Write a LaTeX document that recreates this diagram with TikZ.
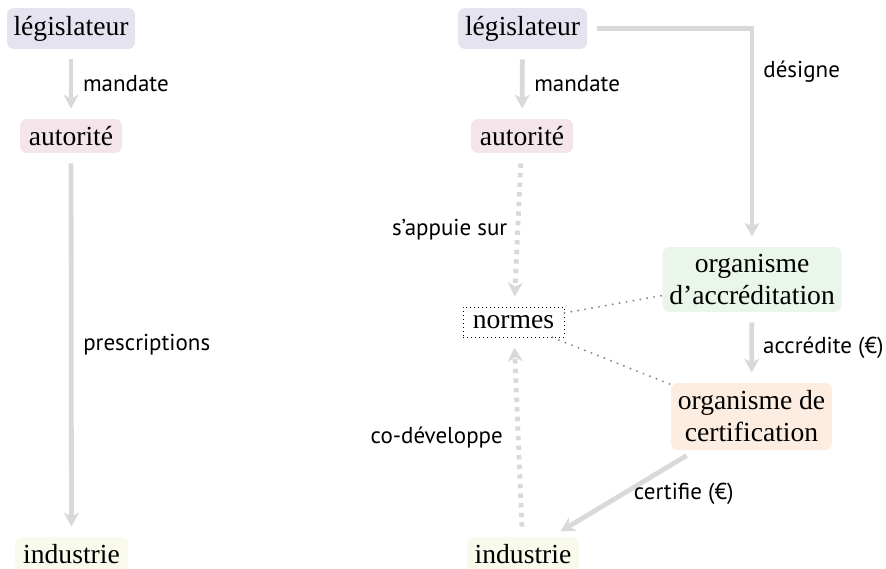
\documentclass[tikz,border=0pt]{standalone}
\usepackage{fontspec}
\setmainfont{Liberation Serif}
\newfontfamily\labelfont{PT Sans}
\usetikzlibrary{arrows.meta}
\definecolor{linkgray}{HTML}{D9D9D9}
\definecolor{tiegray}{HTML}{8A8A8A}
\definecolor{legisfill}{HTML}{E6E3F0}
\definecolor{autfill}{HTML}{F3E5EA}
\definecolor{accfill}{HTML}{EAF6EA}
\definecolor{certfill}{HTML}{FDEDE0}
\definecolor{indfill}{HTML}{F9F9EC}
\begin{document}
\begin{tikzpicture}[x=0.5pt,y=-0.5pt,
  box/.style={rounded corners=3.5pt, inner sep=0pt, align=center,
    font=\fontsize{13.8}{16}\selectfont},
  normbox/.style={inner sep=0pt, draw=black, line width=0.45pt,
    dash pattern=on 0.45pt off 1.55pt, font=\fontsize{13.8}{16}\selectfont},
  flow/.style={draw=linkgray, line width=2.4pt,
    -{Stealth[length=7pt,width=7.5pt,inset=2pt]},
    shorten <=5pt, shorten >=5pt},
  dotflow/.style={flow, dash pattern=on 2.2pt off 2.6pt},
  lab/.style={font=\labelfont\fontsize{11.5}{13}\selectfont, inner sep=0pt},
  tie/.style={draw=tiegray, line width=1.1pt, line cap=round,
    dash pattern=on 0pt off 3.5pt}
]
\useasboundingbox (0,0) rectangle (886,568);

% left: direct regulation
\node[box, fill=legisfill, minimum width=64pt, minimum height=20.5pt] (L1) at (71,28.5) {législateur};
\node[box, fill=autfill, minimum width=51pt, minimum height=17pt] (A1) at (71,136) {autorité};
\node[box, fill=indfill, minimum width=56.5pt, minimum height=17pt] (I1) at (71.5,554) {industrie};

\draw[flow] (L1) -- node[lab, right=4.8pt] {mandate} (A1);
\draw[flow] (A1) -- node[lab, right=4.8pt] {prescriptions} (I1);

% right: standards-based regulation
\node[box, fill=legisfill, minimum width=64.5pt, minimum height=20.5pt] (L2) at (522.5,28.5) {législateur};
\node[box, fill=autfill, minimum width=51pt, minimum height=17pt] (A2) at (522,136) {autorité};
\node[normbox, minimum width=50.5pt, minimum height=15pt] (N) at (513.5,322) {normes};
\node[box, fill=accfill, minimum width=89.5pt, minimum height=32.5pt] (OA) at (752,279.5) {organisme\\d’accréditation};
\node[box, fill=certfill, minimum width=80.5pt, minimum height=33.5pt] (OC) at (751.5,416.5) {organisme de\\certification};
\node[box, fill=indfill, minimum width=56pt, minimum height=17pt] (I2) at (523,554) {industrie};

\draw[flow] (L2) -- node[lab, right=4.8pt] {mandate} (A2);
\draw[dotflow] (A2) -- node[lab, left=4pt] {s’appuie sur} (N);
\draw[dotflow] (I2) -- node[lab, left=6.5pt] {co-développe} (N);
\draw[flow] (L2) -| node[lab, pos=0.6, right=4.5pt] {désigne} (OA);
\draw[flow] (OA) -- node[lab, right=4.5pt] {accrédite (€)} (OC);
\draw[flow] (OC) -- node[lab, right=4pt] {certifie (€)} (I2);
\draw[tie] (N) -- (OA);
\draw[tie] (N) -- (OC);
\end{tikzpicture}
\end{document}
